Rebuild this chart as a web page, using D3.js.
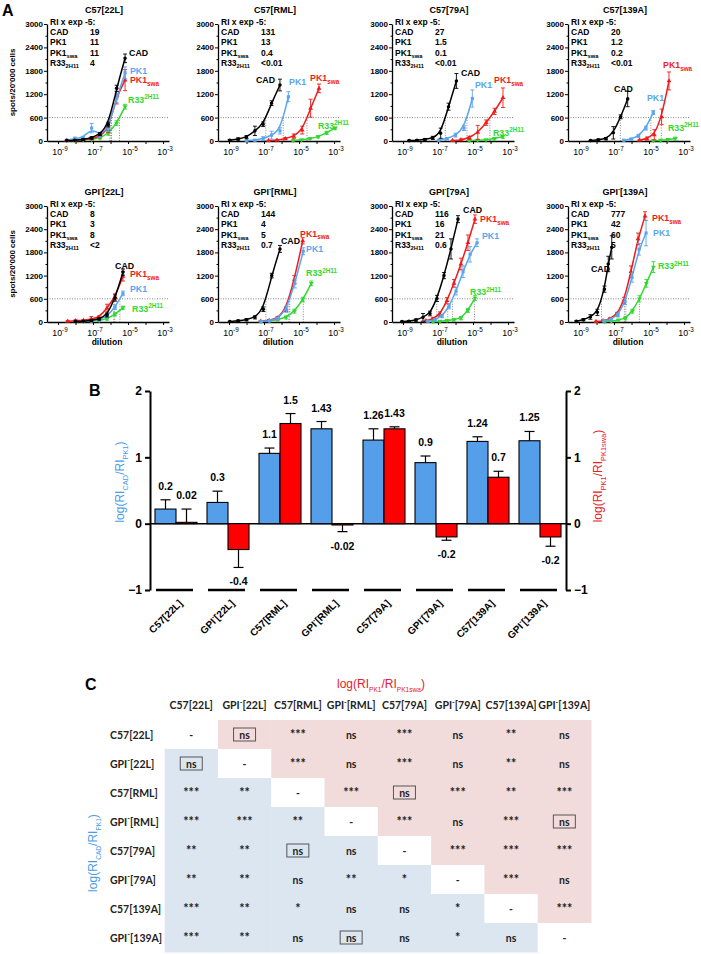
<!DOCTYPE html>
<html><head><meta charset="utf-8">
<script src="https://cdn.jsdelivr.net/npm/d3@7/dist/d3.min.js"></script>
<style>html,body{margin:0;padding:0;background:#fff}svg{display:block}</style>
</head><body>
<svg id="chart" width="701" height="954"></svg>
<script>
// ================= DATA : panel A =================
const panelTitles = ["C57[22L]","C57[RML]","C57[79A]","C57[139A]","GPI^{-}[22L]","GPI^{-}[RML]","GPI^{-}[79A]","GPI^{-}[139A]"];
const riHeader = "RI x exp -5:";
const riNames = ["CAD","PK1","PK1_{swa}","R33_{2H11}"];
const riCAD    = ["19","131","27","20","8","144","116","777"];
const riPK1    = ["11","13","1.5","1.2","3","4","16","42"];
const riPK1swa = ["11","0.4","0.1","0.2","8","5","21","60"];
const riR33    = ["4","<0.01","<0.01","<0.01","<2","0.7","0.6","5"];
const curveLabels = ["CAD","PK1","PK1_{swa}","R33^{2H11}"];
const yTicksA = [0,600,1200,1800,2400,3000];
const xTickExps = [-9,-8,-7,-6,-5,-4,-3];
const xLabelExps = [-9,-7,-5,-3];
const thresholdA = 600;

// [log10(dilution), mean spots/20'000 cells, SEM]
const cadCurves = [
 [[-8.5,10,10],[-8.04,20,15],[-7.56,40,20],[-7.08,80,30],[-6.6,180,40],[-6.13,420,60],[-5.65,1350,80],[-5.17,2120,110]],
 [[-8.96,20,20],[-8.48,50,30],[-8.0,100,40],[-7.52,260,120],[-7.05,430,60],[-6.57,970,60],[-6.09,1435,150]],
 [[-8.65,10,10],[-8.2,20,15],[-7.75,40,20],[-7.3,80,40],[-6.85,200,130],[-6.4,880,90],[-5.95,1540,190]],
 [[-8.34,10,10],[-7.9,30,20],[-7.46,60,30],[-7.04,210,160],[-6.62,620,50],[-6.22,1080,200]],
 [[-8.0,10,10],[-7.55,20,15],[-7.1,40,20],[-6.65,80,30],[-6.2,180,50],[-5.74,620,80],[-5.29,1290,80]],
 [[-8.96,10,10],[-8.48,30,20],[-8.0,60,30],[-7.52,120,40],[-7.04,330,60],[-6.56,1200,60],[-6.09,1890,90]],
 [[-9.06,10,10],[-8.66,20,20],[-8.26,50,30],[-7.86,120,100],[-7.46,220,60],[-7.06,610,80],[-6.66,1200,80],[-6.26,1890,260],[-5.86,2660,90]],
 [[-9.15,20,20],[-8.75,60,30],[-8.35,130,60],[-7.95,250,80],[-7.55,850,80],[-7.33,1500,200],[-7.13,1930,300]]
];
const pk1Curves = [
 [[-8.5,20,20],[-8.04,60,40],[-7.56,80,40],[-7.08,330,120],[-6.6,150,60],[-6.13,320,80],[-5.65,1100,120],[-5.17,1750,150]],
 [[-8.0,10,10],[-7.52,20,20],[-7.05,60,50],[-6.57,150,100],[-6.09,260,80],[-5.61,1135,130]],
 [[-6.96,20,15],[-6.48,60,30],[-6.0,150,50],[-5.52,330,60],[-5.04,1090,220]],
 [[-6.44,20,15],[-6.02,50,20],[-5.6,130,40],[-5.18,330,50],[-4.76,730,50]],
 [[-7.55,15,10],[-7.1,30,20],[-6.65,60,30],[-6.2,150,40],[-5.74,380,60],[-5.29,740,60]],
 [[-7.16,15,10],[-6.68,30,20],[-6.2,90,30],[-5.72,330,80],[-5.24,1000,120],[-4.76,1830,90]],
 [[-7.57,20,20],[-7.17,60,30],[-6.77,150,40],[-6.37,400,60],[-5.97,800,100],[-5.57,1300,150],[-5.17,1750,200],[-4.77,2050,100]],
 [[-7.57,30,20],[-7.17,70,30],[-6.77,180,50],[-6.37,530,80],[-5.97,1150,120],[-5.57,1880,150],[-5.17,2300,330]]
];
const pk1swaCurves = [
 [[-8.5,10,10],[-8.04,20,10],[-7.56,40,20],[-7.08,60,30],[-6.6,120,40],[-6.13,300,80],[-5.65,1150,200],[-5.17,1560,270]],
 [[-6.74,10,10],[-6.26,20,20],[-5.78,60,30],[-5.3,120,60],[-4.82,280,100],[-4.34,840,230],[-3.86,1350,110]],
 [[-6.17,10,10],[-5.69,30,20],[-5.21,80,40],[-4.73,220,180],[-4.25,470,70],[-3.77,760,80],[-3.29,1110,250]],
 [[-5.54,20,20],[-5.12,60,40],[-4.7,160,130],[-4.28,620,200],[-3.86,1540,230]],
 [[-8.45,20,20],[-8.0,30,30],[-7.55,40,20],[-7.1,80,60],[-6.65,120,40],[-6.2,360,100],[-5.74,650,80],[-5.29,1180,120]],
 [[-7.19,20,15],[-6.71,40,20],[-6.23,100,40],[-5.75,330,60],[-5.27,1100,100],[-4.79,2100,80]],
 [[-7.69,30,20],[-7.29,80,30],[-6.89,200,60],[-6.49,550,80],[-6.09,1000,100],[-5.69,1500,150],[-5.29,2050,200],[-4.89,2660,110]],
 [[-8.03,10,10],[-7.63,30,20],[-7.23,80,30],[-6.83,200,50],[-6.43,560,80],[-6.03,1300,150],[-5.63,2150,150],[-5.23,2740,110]]
];
const r33Curves = [
 [[-8.04,10,10],[-7.56,30,15],[-7.08,40,20],[-6.6,80,30],[-6.13,190,40],[-5.65,460,60],[-5.17,880,60]],
 [[-5.34,10,10],[-4.86,30,20],[-4.38,60,20],[-3.9,110,30],[-3.42,210,40],[-2.94,330,30]],
 [[-5.22,10,10],[-4.74,20,10],[-4.26,30,20],[-3.78,60,30],[-3.3,110,40]],
 [[-4.76,10,10],[-4.34,20,15],[-3.92,40,20],[-3.5,60,40]],
 [[-8.0,10,10],[-7.55,20,15],[-7.1,30,20],[-6.65,40,20],[-6.2,80,30],[-5.74,200,40],[-5.29,370,40]],
 [[-7.18,15,10],[-6.7,30,20],[-6.22,60,30],[-5.74,120,40],[-5.26,280,50],[-4.78,580,60],[-4.3,1000,60]],
 [[-7.29,10,10],[-6.89,20,15],[-6.49,40,20],[-6.09,60,30],[-5.69,100,40],[-5.29,300,50],[-4.89,620,60]],
 [[-7.55,10,10],[-7.15,20,15],[-6.75,50,20],[-6.35,95,40],[-5.95,280,50],[-5.55,600,80],[-5.15,1000,100],[-4.75,1420,140]]
];

// ================= DATA : panel B =================
const groupNames = ["C57[22L]","GPI^{-}[22L]","C57[RML]","GPI^{-}[RML]","C57[79A]","GPI^{-}[79A]","C57[139A]","GPI^{-}[139A]"];
const blueVals   = [0.22,0.32,1.06,1.43,1.26,0.92,1.24,1.25];
const blueErr    = [0.14,0.17,0.08,0.11,0.17,0.10,0.07,0.14];
const blueLabels = ["0.2","0.3","1.1","1.43","1.26","0.9","1.24","1.25"];
const redVals    = [0.02,-0.39,1.51,-0.02,1.43,-0.2,0.7,-0.2];
const redErr     = [0.20,0.27,0.15,0.10,0.03,0.05,0.09,0.14];
const redLabels  = ["0.02","-0.4","1.5","-0.02","1.43","-0.2","0.7","-0.2"];
const yTicksB = [-1,0,1,2];

// ================= DATA : panel C =================
const sigMatrix = [
 ["-","ns","***","ns","***","ns","**","ns"],
 ["ns","-","***","ns","***","ns","**","ns"],
 ["***","**","-","***","ns","***","**","***"],
 ["***","***","**","-","***","ns","***","ns"],
 ["**","**","ns","ns","-","***","***","***"],
 ["**","**","ns","**","*","-","***","ns"],
 ["***","**","*","ns","ns","*","-","***"],
 ["***","**","ns","ns","ns","*","ns","-"]
];
const boxedCells = [[0,1],[1,0],[2,4],[4,2],[3,7],[7,3]];

// ================= STYLE / LAYOUT =================
const F = '"Liberation Sans", Arial, Helvetica, sans-serif';
const FC = 'Lato, "Open Sans", sans-serif';
const seriesColors = ["#000000","#5AA5EE","#EE1C1C","#30D830"];
const seriesSymbols = [d3.symbolCircle, d3.symbolSquare, d3.symbolTriangle, d3.symbolTriangle];
const BLUE = "#559FEA", RED = "#FF0000";
// curve-label anchor points (data space) per panel: CAD, PK1, PK1swa, R33
const labelPos = [
 [[-4.94,2256,"start"],[-4.89,1795,"start"],[-4.89,1564,"start"],[-5.0,1051,"start"]],
 [[-6.37,1564,"end"],[-5.57,1513,"start"],[-4.37,1615,"start"],[-3.92,385,"start"]],
 [[-5.69,1744,"start"],[-4.89,1436,"start"],[-3.8,1564,"start"],[-3.86,205,"start"]],
 [[-5.92,1333,"end"],[-5.12,1103,"start"],[-4.2,1949,"start"],[-3.92,333,"start"]],
 [[-5.74,1461,"start"],[-4.89,846,"start"],[-4.89,1231,"start"],[-4.77,333,"start"]],
 [[-6.03,2103,"start"],[-4.6,1897,"start"],[-4.94,2282,"start"],[-4.6,1256,"start"]],
 [[-5.57,2897,"start"],[-4.49,2231,"start"],[-4.6,2667,"start"],[-5.17,769,"start"]],
 [[-7.23,1359,"end"],[-4.77,2308,"start"],[-4.83,2692,"start"],[-4.49,1436,"start"]]
];

const svg = d3.select("#chart");

function rich(textSel, str, fs, subScale) {
  const sc = subScale || 0.68;
  const re = /([_^])\{([^}]*)\}/g; let last = 0, m; const parts = [];
  while ((m = re.exec(str))) {
    if (m.index > last) parts.push({t: str.slice(last, m.index)});
    parts.push({t: m[2], k: m[1]}); last = re.lastIndex;
  }
  if (last < str.length) parts.push({t: str.slice(last)});
  let shift = 0;
  parts.forEach(p => {
    const ts = textSel.append("tspan").text(p.t);
    const target = p.k === "_" ? fs * 0.3 : p.k === "^" ? -fs * 0.42 : 0;
    if (target !== shift) { ts.attr("dy", target - shift); shift = target; }
    if (p.k) ts.attr("font-size", fs * sc);
  });
  return textSel;
}

// ================= PANEL A =================
const colAxisX = [47,218,392,568];
const rowY = [[141,24],[322,206]];
const plotW = 122;
const seriesData = [cadCurves, pk1Curves, pk1swaCurves, r33Curves];
const riValues = [riCAD, riPK1, riPK1swa, riR33];

svg.append("text").attr("x",2).attr("y",16).attr("font-family",F).attr("font-weight","bold").attr("font-size",16).text("A");

rowY.forEach(([yb,yt]) => {
  svg.append("text").attr("transform",`translate(15,${(yb+yt)/2}) rotate(-90)`).attr("text-anchor","middle")
    .attr("font-family",F).attr("font-weight","bold").attr("font-size",8).text("spots/20'000 cells");
});

panelTitles.forEach((title, p) => {
  const ax = colAxisX[p % 4];
  const [yb, yt] = rowY[Math.floor(p / 4)];
  const x = d3.scaleLog().domain([Math.pow(10,-9.63), Math.pow(10,-2.66)]).range([ax, ax + plotW]);
  const y = d3.scaleLinear().domain([0, 3000]).range([yb, yt]);
  const g = svg.append("g");

  g.append("line").attr("x1", ax).attr("x2", ax + plotW).attr("y1", y(thresholdA)).attr("y2", y(thresholdA))
    .attr("stroke", "#555").attr("stroke-width", 0.7).attr("stroke-dasharray", "1,1.5");
  seriesData.forEach(sd => {
    const pts = sd[p].slice().sort((a, b) => a[0] - b[0]);
    for (let i = 0; i < pts.length - 1; i++) {
      if (pts[i][1] < thresholdA && pts[i + 1][1] >= thresholdA) {
        const t = (thresholdA - pts[i][1]) / (pts[i + 1][1] - pts[i][1]);
        const lx = pts[i][0] + t * (pts[i + 1][0] - pts[i][0]);
        g.append("line").attr("x1", x(Math.pow(10, lx))).attr("x2", x(Math.pow(10, lx)))
          .attr("y1", y(thresholdA)).attr("y2", y(0))
          .attr("stroke", "#555").attr("stroke-width", 0.7).attr("stroke-dasharray", "1,1.5");
        break;
      }
    }
  });

  const ya = g.append("g").attr("transform", `translate(${ax},0)`)
    .call(d3.axisLeft(y).tickValues(yTicksA).tickSize(3).tickSizeOuter(0).tickPadding(1).tickFormat(d => d));
  g.append("g").attr("transform", `translate(${ax},0)`)
    .call(d3.axisLeft(y).tickValues(d3.range(300, 3000, 600)).tickSize(1.5).tickSizeOuter(0).tickFormat(""))
    .select(".domain").remove();
  const xa = g.append("g").attr("transform", `translate(0,${yb})`)
    .call(d3.axisBottom(x).tickValues(xTickExps.map(e => Math.pow(10, e))).tickSize(3).tickSizeOuter(0).tickFormat(""));
  [ya, xa].forEach(a => {
    a.select(".domain").attr("stroke-width", 1.3);
    a.selectAll(".tick line").attr("stroke-width", 1);
    a.selectAll("text").attr("font-family", F).attr("font-weight", "bold").attr("font-size", 8).attr("fill", "#000");
  });
  xLabelExps.forEach(e => {
    const t = g.append("text").attr("x", x(Math.pow(10, e)) + 2).attr("y", yb + 14).attr("text-anchor", "middle")
      .attr("font-family", F).attr("font-size", 8.8).attr("fill", "#000");
    rich(t, "10^{" + e + "}", 8.8, 0.72);
  });
  if (p >= 4) {
    g.append("text").attr("x", ax + 60).attr("y", yb + 23).attr("text-anchor", "middle")
      .attr("font-family", F).attr("font-weight", "bold").attr("font-size", 8.5).text("dilution");
  }

  const tt = g.append("text").attr("x", ax + 57).attr("y", yt - 11).attr("text-anchor", "middle")
    .attr("font-family", F).attr("font-weight", "bold").attr("font-size", 9);
  rich(tt, title, 9);

  const tb = g.append("g").attr("font-family", F).attr("font-weight", "bold").attr("font-size", 8.5);
  tb.append("text").attr("x", ax + 3).attr("y", yt + 1).text(riHeader);
  riNames.forEach((n, i) => {
    rich(tb.append("text").attr("x", ax + 3).attr("y", yt + 11 + i * 10.3), n, 8.5);
    tb.append("text").attr("x", ax + 43).attr("y", yt + 11 + i * 10.3).text(riValues[i][p]);
  });

  [3, 2, 1, 0].forEach(s => {
    const pts = seriesData[s][p].slice().sort((a, b) => a[0] - b[0]);
    const col = seriesColors[s];
    const line = d3.line().x(d => x(Math.pow(10, d[0]))).y(d => y(d[1])).curve(d3.curveBasis);
    g.append("path").attr("d", line(pts)).attr("fill", "none").attr("stroke", col).attr("stroke-width", 1.5);
    pts.forEach(d => {
      const cx = x(Math.pow(10, d[0]));
      const lo = y(Math.max(0, d[1] - d[2])), hi = y(d[1] + d[2]);
      g.append("line").attr("x1", cx).attr("x2", cx).attr("y1", lo).attr("y2", hi).attr("stroke", col).attr("stroke-width", 0.9);
      [lo, hi].forEach(v => g.append("line").attr("x1", cx - 2).attr("x2", cx + 2).attr("y1", v).attr("y2", v).attr("stroke", col).attr("stroke-width", 0.9));
      g.append("path").attr("d", d3.symbol().type(seriesSymbols[s]).size(10)())
        .attr("transform", `translate(${cx},${y(d[1])})${s === 3 ? " rotate(180)" : ""}`).attr("fill", col);
    });
    const lp = labelPos[p][s];
    const lt = g.append("text").attr("x", x(Math.pow(10, lp[0]))).attr("y", y(lp[1]) + 3).attr("text-anchor", lp[2])
      .attr("font-family", F).attr("font-weight", "bold").attr("font-size", 8.8).attr("fill", col);
    rich(lt, curveLabels[s], 8.8, 0.72);
  });
});

// ================= PANEL B =================
const gB = svg.append("g");
const yB = d3.scaleLinear().domain([-1, 2]).range([590, 391]);
const xB = d3.scaleBand().domain(groupNames).range([150, 566]).paddingInner(0).paddingOuter(0);
const xSub = d3.scaleBand().domain(["blue", "red"]).range([0, xB.bandwidth()]).paddingInner(0).paddingOuter(0.238);

gB.append("text").attr("x", 89).attr("y", 396).attr("font-family", F).attr("font-weight", "bold").attr("font-size", 16).text("B");

groupNames.forEach(gn => {
  gB.append("line").attr("x1", xB(gn) + 6).attr("x2", xB(gn) + 43).attr("y1", yB(-1)).attr("y2", yB(-1))
    .attr("stroke", "#000").attr("stroke-width", 2.6);
});
gB.append("line").attr("x1", 150).attr("x2", 566).attr("y1", yB(0)).attr("y2", yB(0)).attr("stroke", "#000").attr("stroke-width", 1.5);

function drawBars(vals, errs, labels, key, color) {
  vals.forEach((v, i) => {
    const gn = groupNames[i];
    const bx = xB(gn) + xSub(key), bw = xSub.bandwidth();
    const dir = v >= 0 ? 1 : -1;
    const tip = v + dir * errs[i];
    const cx = bx + bw / 2;
    gB.append("line").attr("x1", cx).attr("x2", cx).attr("y1", yB(v)).attr("y2", yB(tip)).attr("stroke", "#000").attr("stroke-width", 1.2);
    gB.append("line").attr("x1", cx - 5).attr("x2", cx + 5).attr("y1", yB(tip)).attr("y2", yB(tip)).attr("stroke", "#000").attr("stroke-width", 1.2);
    gB.append("rect").attr("x", bx).attr("width", bw).attr("y", yB(Math.max(0, v))).attr("height", Math.abs(yB(v) - yB(0)))
      .attr("fill", color).attr("stroke", "#000").attr("stroke-width", 1.1);
    gB.append("text").attr("x", cx).attr("y", yB(tip) + (dir > 0 ? -10 : 18)).attr("text-anchor", "middle")
      .attr("font-family", F).attr("font-weight", "bold").attr("font-size", 10.5).text(labels[i]);
  });
}
drawBars(blueVals, blueErr, blueLabels, "blue", BLUE);
drawBars(redVals, redErr, redLabels, "red", RED);

const axL = gB.append("g").attr("transform", "translate(150,0)").call(d3.axisLeft(yB).tickValues(yTicksB).tickSize(5).tickSizeOuter(0).tickPadding(3).tickFormat(d3.format("d")));
const axR = gB.append("g").attr("transform", "translate(566,0)").call(d3.axisRight(yB).tickValues(yTicksB).tickSize(5).tickSizeOuter(0).tickPadding(3).tickFormat(d3.format("d")));
[axL, axR].forEach(a => {
  a.select(".domain").attr("stroke-width", 2);
  a.selectAll(".tick line").attr("stroke-width", 2);
  a.selectAll("text").attr("font-family", F).attr("font-weight", "bold").attr("font-size", 12).attr("fill", "#000");
});

rich(gB.append("text").attr("transform", "translate(124,482) rotate(-90)").attr("text-anchor", "middle")
  .attr("font-family", F).attr("font-size", 12).attr("fill", "#4A9BE6"), "log(RI_{CAD}/RI_{PK1})", 12, 0.62);
rich(gB.append("text").attr("transform", "translate(602,476) rotate(-90)").attr("text-anchor", "middle")
  .attr("font-family", F).attr("font-size", 12).attr("fill", "#E8202A"), "log(RI_{PK1}/RI_{PK1swa})", 12, 0.62);

groupNames.forEach(gn => {
  const t = gB.append("text").attr("transform", `translate(${xB(gn) + xB.bandwidth() / 2 + 7},${604}) rotate(-45)`)
    .attr("text-anchor", "end").attr("font-family", F).attr("font-weight", "bold").attr("font-size", 10);
  rich(t, gn, 10);
});

// ================= PANEL C =================
const gC = svg.append("g");
const xC = d3.scaleBand().domain(groupNames).range([164.6, 591]);
const yC = d3.scaleBand().domain(groupNames).range([720, 952]);

gC.append("text").attr("x", 85).attr("y", 690).attr("font-family", F).attr("font-weight", "bold").attr("font-size", 16).text("C");
rich(gC.append("text").attr("x", 381).attr("y", 688).attr("text-anchor", "middle").attr("font-family", F).attr("font-size", 12).attr("fill", "#E8202A"),
  "log(RI_{PK1}/RI_{PK1swa})", 12, 0.55);
rich(gC.append("text").attr("transform", "translate(97,853) rotate(-90)").attr("text-anchor", "middle").attr("font-family", F).attr("font-size", 12).attr("fill", "#4A9BE6"),
  "log(RI_{CAD}/RI_{PK1})", 12, 0.55);

sigMatrix.forEach((row, i) => {
  row.forEach((v, j) => {
    const fill = i < j ? "#F2DCDB" : i > j ? "#DCE6F1" : "#FFFFFF";
    gC.append("rect").attr("x", xC(groupNames[j])).attr("y", yC(groupNames[i])).attr("width", xC.bandwidth() + 0.5).attr("height", yC.bandwidth() + 0.5).attr("fill", fill);
  });
});
sigMatrix.forEach((row, i) => {
  row.forEach((v, j) => {
    const cx = xC(groupNames[j]) + xC.bandwidth() / 2, cy = yC(groupNames[i]) + yC.bandwidth() / 2;
    const star = v.includes("*");
    gC.append("text").attr("x", cx).attr("y", cy + (star ? 4 : 4)).attr("text-anchor", "middle")
      .attr("font-family", FC).attr("font-weight", "bold").attr("font-size", star ? 12.5 : 10.5).attr("fill", "#222").text(v);
  });
});
boxedCells.forEach(([i, j]) => {
  const cx = xC(groupNames[j]) + xC.bandwidth() / 2, cy = yC(groupNames[i]) + yC.bandwidth() / 2;
  gC.append("rect").attr("x", cx - 11).attr("y", cy - 6.5).attr("width", 22).attr("height", 13)
    .attr("fill", "none").attr("stroke", "#555").attr("stroke-width", 1);
});
groupNames.forEach(gn => {
  rich(gC.append("text").attr("x", xC(gn) + xC.bandwidth() / 2).attr("y", 709).attr("text-anchor", "middle")
    .attr("font-family", FC).attr("font-weight", "bold").attr("font-size", 10.5).attr("fill", "#222"), gn, 10.5, 0.7);
  rich(gC.append("text").attr("x", 110).attr("y", yC(gn) + yC.bandwidth() / 2 + 4)
    .attr("font-family", FC).attr("font-weight", "bold").attr("font-size", 10.5).attr("fill", "#222"), gn, 10.5, 0.7);
});
</script>
</body></html>
